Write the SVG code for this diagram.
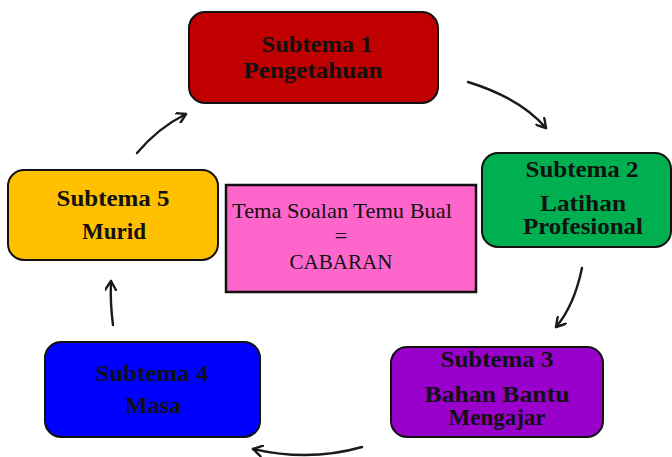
<svg xmlns="http://www.w3.org/2000/svg" width="672" height="457" viewBox="0 0 672 457">
<defs>
<marker id="ah" markerWidth="12" markerHeight="12" viewBox="-10 -6 12 12" refX="0" refY="0" orient="auto" markerUnits="userSpaceOnUse">
<path d="M-9,-5.5 L0,0 L-9,5.5" fill="none" stroke="#1a1a1a" stroke-width="2.4" stroke-linecap="round" stroke-linejoin="round"/>
</marker>
</defs>
<style>
.box{stroke:#111;stroke-width:2}
.t{font-family:"Liberation Serif","Times New Roman",serif;font-weight:bold;font-size:23px;fill:#111;text-anchor:middle}
.c{font-family:"Liberation Serif","Times New Roman",serif;font-weight:normal;font-size:22px;fill:#111;text-anchor:middle}
.arr{fill:none;stroke:#1a1a1a;stroke-width:2.4;stroke-linecap:round;marker-end:url(#ah)}
</style>
<rect width="672" height="457" fill="#ffffff"/>
<g id="connectors">
<path class="arr" d="M468,82 Q520,98 546,128"/>
<path class="arr" d="M582,268 Q574,306 556,327"/>
<path class="arr" d="M362,447 Q310,462 253,449"/>
<path class="arr" d="M113,325 Q110,302 111,281"/>
<path class="arr" d="M137,153 Q158,128 186,114"/>
</g>
<g id="node1">
<rect class="box" x="189" y="12" width="249" height="91" rx="16" fill="#C00000"/>
<text class="t" x="317" y="52" textLength="111" lengthAdjust="spacingAndGlyphs">Subtema 1</text>
<text class="t" x="313" y="78" textLength="139" lengthAdjust="spacingAndGlyphs">Pengetahuan</text>
</g>
<g id="node2">
<rect class="box" x="482" y="153" width="189" height="94" rx="16" fill="#00B050"/>
<text class="t" x="582" y="177" textLength="113" lengthAdjust="spacingAndGlyphs">Subtema 2</text>
<text class="t" x="583" y="211" textLength="86" lengthAdjust="spacingAndGlyphs">Latihan</text>
<text class="t" x="583" y="234" textLength="120" lengthAdjust="spacingAndGlyphs">Profesional</text>
</g>
<g id="node3">
<rect class="box" x="391" y="347" width="212" height="90" rx="16" fill="#9900CC"/>
<text class="t" x="497" y="367" textLength="113" lengthAdjust="spacingAndGlyphs">Subtema 3</text>
<text class="t" x="497" y="402" textLength="145" lengthAdjust="spacingAndGlyphs">Bahan Bantu</text>
<text class="t" x="497" y="425" textLength="97" lengthAdjust="spacingAndGlyphs">Mengajar</text>
</g>
<g id="node4">
<rect class="box" x="45" y="342" width="215" height="95" rx="16" fill="#0000FF"/>
<text class="t" x="152" y="381" textLength="113" lengthAdjust="spacingAndGlyphs">Subtema 4</text>
<text class="t" x="153" y="413" textLength="56" lengthAdjust="spacingAndGlyphs">Masa</text>
</g>
<g id="node5">
<rect class="box" x="8" y="170" width="210" height="90" rx="16" fill="#FFC000"/>
<text class="t" x="113" y="206" textLength="113" lengthAdjust="spacingAndGlyphs">Subtema 5</text>
<text class="t" x="114" y="239" textLength="64" lengthAdjust="spacingAndGlyphs">Murid</text>
</g>
<g id="center">
<rect x="226" y="185" width="250" height="107" fill="#FF66CC" stroke="#111" stroke-width="2.5"/>
<text class="c" x="342" y="218" textLength="220" lengthAdjust="spacingAndGlyphs">Tema Soalan Temu Bual</text>
<text class="c" x="341" y="243">=</text>
<text class="c" x="341" y="269" textLength="103" lengthAdjust="spacingAndGlyphs">CABARAN</text>
</g>
</svg>
